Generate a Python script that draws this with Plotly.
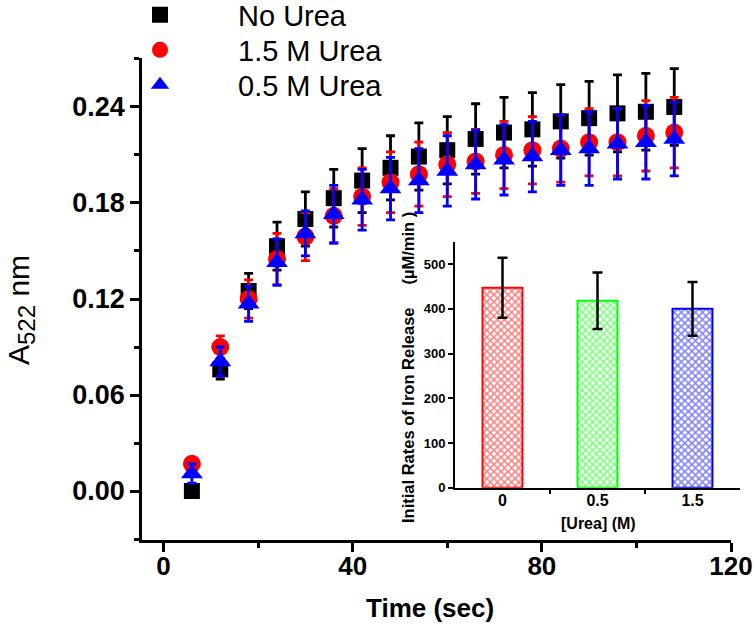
import plotly.graph_objects as go

# ---------------- data ----------------
time_sec = [6, 12, 18, 24, 30, 36, 42, 48, 54, 60, 66, 72, 78, 84, 90, 96, 102, 108]

no_urea = [0.000, 0.076, 0.125, 0.153, 0.170, 0.183, 0.194, 0.202, 0.209, 0.213,
           0.220, 0.224, 0.226, 0.231, 0.233, 0.236, 0.237, 0.240]
no_urea_err = [0.000, 0.006, 0.011, 0.015, 0.017, 0.018, 0.020, 0.020, 0.021, 0.021,
               0.022, 0.022, 0.023, 0.023, 0.023, 0.024, 0.024, 0.024]

urea_15 = [0.017, 0.090, 0.120, 0.145, 0.159, 0.172, 0.184, 0.193, 0.198, 0.204,
           0.206, 0.210, 0.213, 0.214, 0.218, 0.218, 0.222, 0.224]
urea_15_err = [0.002, 0.007, 0.012, 0.016, 0.015, 0.017, 0.018, 0.019, 0.020, 0.020,
               0.020, 0.021, 0.021, 0.021, 0.021, 0.021, 0.022, 0.022]

urea_05 = [0.011, 0.081, 0.117, 0.143, 0.161, 0.173, 0.182, 0.189, 0.194, 0.200,
           0.204, 0.207, 0.209, 0.213, 0.214, 0.217, 0.218, 0.220]
urea_05_err = [0.006, 0.009, 0.011, 0.0145, 0.014, 0.018, 0.019, 0.0195, 0.020, 0.022,
               0.0215, 0.022, 0.022, 0.022, 0.023, 0.022, 0.023, 0.023]

inset_pos = [1, 2, 3]
inset_labels = ["0", "0.5", "1.5"]
inset_rates = [447, 418, 400]
inset_err = [67, 63, 60]
inset_colors = ["#FF0000", "#00FF00", "#0000FF"]

x_ticks = [0, 40, 80, 120]
y_ticks = [0.00, 0.06, 0.12, 0.18, 0.24]

# ---------------- layout helpers ----------------
W, H = 755, 632
ML, MR, MT, MB = 142, 12, 58, 92
PW, PH = W - ML - MR, H - MT - MB


def px_x(p):
    return (p - ML) / PW


def px_y(p):
    return (H - MB - p) / PH


FONT = "Arial, Liberation Sans, sans-serif"

fig = go.Figure()

fig.add_trace(go.Scatter(
    x=time_sec, y=no_urea, mode="markers", name="No Urea", legend="legend",
    marker=dict(symbol="square", size=16, color="#000000"),
    error_y=dict(type="data", array=no_urea_err, color="#000000", thickness=2.8, width=4.5),
    xaxis="x", yaxis="y"))
fig.add_trace(go.Scatter(
    x=time_sec, y=urea_15, mode="markers", name="1.5 M Urea", legend="legend2",
    marker=dict(symbol="circle", size=18, color="#FF0000"),
    error_y=dict(type="data", array=urea_15_err, color="#FF0000", thickness=2.8, width=4.5),
    xaxis="x", yaxis="y"))
fig.add_trace(go.Scatter(
    x=time_sec, y=urea_05, mode="markers", name="0.5 M Urea", legend="legend3",
    marker=dict(symbol="triangle-up", size=19, color="#0000FF"),
    error_y=dict(type="data", array=urea_05_err, color="#0000FF", thickness=2.8, width=4.5),
    xaxis="x", yaxis="y"))

fig.add_trace(go.Bar(
    x=inset_pos, y=inset_rates, width=0.42, showlegend=False,
    marker=dict(color="white", line=dict(color=inset_colors, width=2),
                pattern=dict(shape="x", fgcolor=inset_colors, bgcolor="white",
                             size=5, solidity=0.5, fillmode="overlay")),
    error_y=dict(type="data", array=inset_err, color="#000000", thickness=2.5, width=5),
    xaxis="x2", yaxis="y2"))

axis_common = dict(showline=True, linecolor="black", showgrid=False, zeroline=False,
                   ticks="outside", tickcolor="black", automargin=False)

legend_common = dict(xanchor="left", yanchor="middle", font=dict(size=29, family=FONT),
                     itemwidth=146, bgcolor="rgba(0,0,0,0)")

fig.update_layout(
    width=W, height=H,
    margin=dict(l=ML, r=MR, t=MT, b=MB, autoexpand=False),
    paper_bgcolor="white", plot_bgcolor="white",
    font=dict(family=FONT, color="black"),
    xaxis=dict(**axis_common, domain=[0, px_x(731)], range=[-4.55, 120],
               tickvals=x_ticks, ticklen=9, tickwidth=2.5, linewidth=2.5,
               ticklabelstandoff=-8,
               tickfont=dict(size=26, family=FONT, weight="bold"),
               minor=dict(tickvals=[20, 60, 100], ticks="outside", ticklen=5,
                          tickwidth=2.5, tickcolor="black"),
               anchor="y"),
    yaxis=dict(**axis_common, domain=[0, 1], range=[-0.0306, 0.2706],
               tickvals=y_ticks, tickformat=".2f", ticklen=9, tickwidth=2.5, linewidth=2.5,
               tickfont=dict(size=27, family=FONT, weight="bold"),
               minor=dict(tickvals=[-0.03, 0.03, 0.09, 0.15, 0.21, 0.27], ticks="outside",
                          ticklen=5, tickwidth=2.5, tickcolor="black"),
               anchor="x"),
    xaxis2=dict(**axis_common, domain=[px_x(455), px_x(740)], range=[0.5, 3.5],
                tickvals=inset_pos, ticktext=inset_labels, ticklen=0, linewidth=2,
                ticklabelstandoff=-3,
                tickfont=dict(size=16, family=FONT, weight="bold"),
                minor=dict(tickvals=[1.5, 2.5], ticks="outside", ticklen=4,
                           tickwidth=1.5, tickcolor="black"),
                anchor="y2"),
    yaxis2=dict(**axis_common, domain=[px_y(487.7), px_y(241.7)], range=[0, 550],
                tickvals=[0, 100, 200, 300, 400, 500], ticklen=5, tickwidth=1.5, linewidth=2,
                tickfont=dict(size=13, family=FONT, weight="bold"),
                anchor="x2"),
    legend=dict(x=px_x(82), y=px_y(15), **legend_common),
    legend2=dict(x=px_x(82), y=px_y(50), **legend_common),
    legend3=dict(x=px_x(82), y=px_y(85), **legend_common),
    showlegend=True,
)

annotations = [
    dict(text="Time (sec)", x=px_x(430), y=px_y(608), xref="paper", yref="paper",
         xanchor="center", yanchor="middle",
         showarrow=False, font=dict(size=26, family=FONT, weight="bold")),
    dict(text="A<sub><span style='font-size:24px'>522</span></sub> nm",
         x=px_x(0), y=px_y(310), xref="paper", yref="paper",
         xanchor="left", yanchor="middle",
         showarrow=False, textangle=-90, font=dict(size=30, family=FONT)),
    dict(text="[Urea] (M)", x=px_x(598), y=px_y(523), xref="paper", yref="paper",
         xanchor="center", yanchor="middle",
         showarrow=False, font=dict(size=16, family=FONT, weight="bold")),
    dict(text="Initial Rates of Iron Release\u00a0\u00a0\u00a0\u00a0\u00a0(\u00b5M/min )",
         x=px_x(408), y=px_y(368), xref="paper", yref="paper",
         xanchor="center", yanchor="middle",
         showarrow=False, textangle=-90, font=dict(size=16.5, family=FONT, weight="bold")),
]
fig.update_layout(annotations=annotations)

fig.write_html("out.html", config={"displayModeBar": False},
               post_script="document.body.style.margin='0px';")
